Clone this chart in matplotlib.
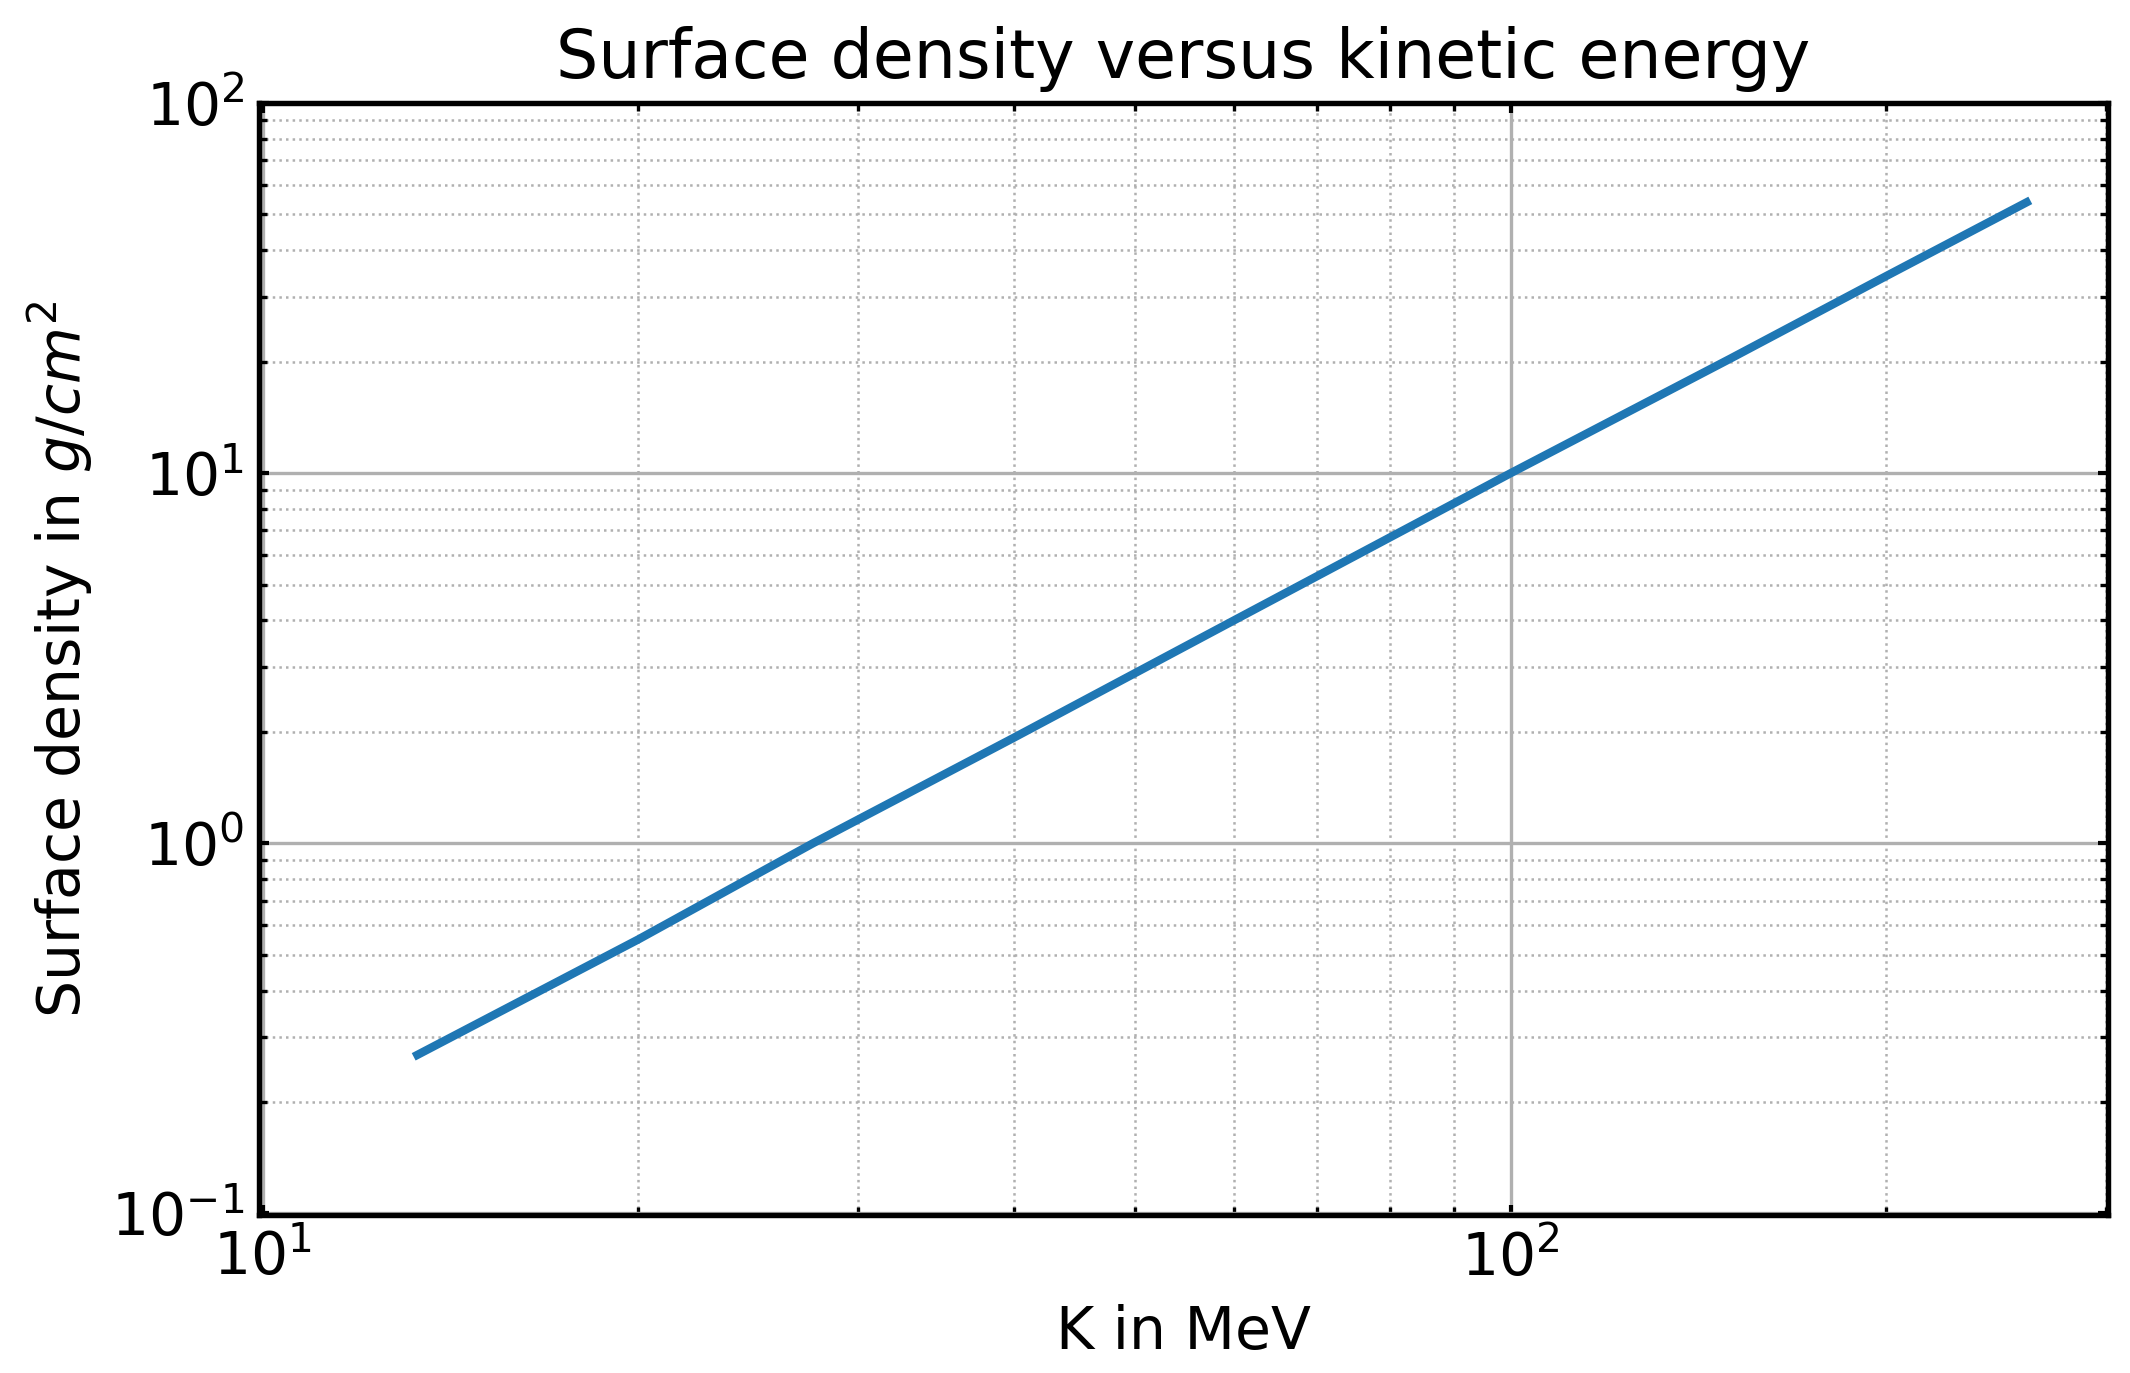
import numpy as np
import matplotlib
matplotlib.use("Agg")
import matplotlib.pyplot as plt

# kinetic energy (MeV) and surface density (g/cm^2)
kinetic_energy = [13.3, 20, 27.6, 40, 60, 100, 150, 200, 259]
surface_density = [0.268, 0.55, 1.0, 1.93, 4.0, 10, 20.4, 34.1, 53.9]

plt.rcParams['font.size'] = 14

fig = plt.figure(figsize=(7.1, 1373 / 300), dpi=300)
ax = fig.add_axes([0.1216, 0.1151, 0.9897 - 0.1216, 0.925 - 0.1151])

ax.plot(kinetic_energy, surface_density, color='#1f77b4', lw=2.0)

ax.set_xscale('log')
ax.set_yscale('log')
ax.set_xlim(9.93, 301)
ax.set_ylim(0.099, 100)

# grid: solid major, dotted minor
ax.grid(True, which='major', color='#b0b0b0', lw=0.8, ls='-')
ax.grid(True, which='minor', color='#b0b0b0', lw=0.6, ls=':')

ax.tick_params(which='both', direction='in', top=True, right=True)
ax.tick_params(which='major', length=2.5, width=1.0, labelsize=14)
ax.tick_params(which='minor', length=2.0, width=0.8)
for s in ax.spines.values():
    s.set_linewidth(1.3)

ax.set_title('Surface density versus kinetic energy', fontsize=16)
ax.set_xlabel('K in MeV', fontsize=14)
ax.set_ylabel(r'Surface density in $g/cm^2$', fontsize=14)

fig.savefig('out.png', dpi=300)
